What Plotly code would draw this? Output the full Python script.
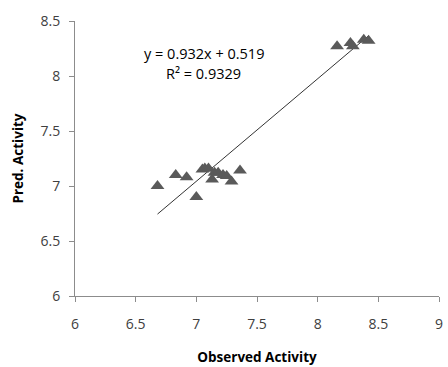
import plotly.graph_objects as go

observed = [6.68, 6.83, 6.92, 7.00, 7.05, 7.07, 7.10, 7.13, 7.15, 7.18, 7.22, 7.25, 7.29, 7.36,
            8.16, 8.27, 8.29, 8.38, 8.42]
predicted = [7.00, 7.10, 7.08, 6.90, 7.15, 7.16, 7.16, 7.06, 7.12, 7.12, 7.10, 7.09, 7.04, 7.14,
             8.27, 8.30, 8.27, 8.33, 8.32]
slope = 0.932
intercept = 0.519
eq_text = "y = 0.932x + 0.519"
r2_text = "R² = 0.9329"
x_ticks = [6, 6.5, 7, 7.5, 8, 8.5, 9]
y_ticks = [6, 6.5, 7, 7.5, 8, 8.5]

xmin, xmax = min(observed), max(observed)
fig = go.Figure()
fig.add_trace(go.Scatter(x=[xmin, xmax], y=[slope * xmin + intercept, slope * xmax + intercept],
                         mode="lines", line=dict(color="#333333", width=1), hoverinfo="skip"))
fig.add_trace(go.Scatter(x=observed, y=predicted, mode="markers",
                         marker=dict(symbol="triangle-up", size=12, color="#5a5a5a")))

font_family = "Open Sans, Liberation Sans, sans-serif"
axis_common = dict(showgrid=False, zeroline=False, showline=True, linecolor="#8c8c8c", linewidth=1,
                   ticks="outside", ticklen=5, tickcolor="#8c8c8c", ticklabeloverflow="allow",
                   tickfont=dict(family=font_family, size=14, color="#404040"))
fig.update_layout(
    width=448, height=367, showlegend=False,
    margin=dict(l=75, r=5, t=21, b=71),
    paper_bgcolor="white", plot_bgcolor="white",
    xaxis=dict(range=[6, 9], tickvals=x_ticks, ticktext=[f"{v:g}" for v in x_ticks],
               ticklabelstandoff=10,
               title=dict(text="<b>Observed Activity</b>", font=dict(family=font_family, size=13.5, color="#000"), standoff=20),
               **axis_common),
    yaxis=dict(range=[6, 8.5], tickvals=y_ticks, ticktext=[f"{v:g}" for v in y_ticks],
               ticklabelstandoff=6,
               title=dict(text="<b>Pred. Activity</b>", font=dict(family=font_family, size=13.5, color="#000"), standoff=13),
               **axis_common),
)
fig.add_annotation(x=(205 - 75) / 368, y=1 - (42 - 21) / 275, xref="paper", yref="paper", text=eq_text,
                   showarrow=False, font=dict(family=font_family, size=14.5, color="#000"))
fig.add_annotation(x=(205 - 75) / 368, y=1 - (62 - 21) / 275, xref="paper", yref="paper", text=r2_text,
                   showarrow=False, font=dict(family=font_family, size=14.5, color="#000"))
fig.write_html("out.html", config={"displayModeBar": False})

with open("out.html", "r", encoding="utf-8") as f:
    html = f.read()
html = html.replace("<head>", "<head><style>html,body{margin:0;padding:0;overflow:hidden;}</style>", 1)
with open("out.html", "w", encoding="utf-8") as f:
    f.write(html)
